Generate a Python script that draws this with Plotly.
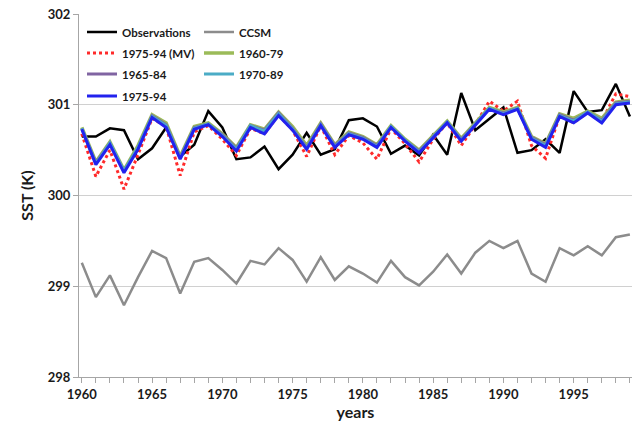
import plotly.graph_objects as go

years = list(range(1960, 2000))

observations = [300.65, 300.65, 300.74, 300.72, 300.40, 300.52, 300.75, 300.43, 300.56, 300.93,
                300.75, 300.40, 300.42, 300.54, 300.29, 300.45, 300.69, 300.45, 300.51, 300.83,
                300.85, 300.76, 300.46, 300.55, 300.44, 300.67, 300.45, 301.13, 300.72, 300.84,
                300.97, 300.47, 300.50, 300.62, 300.47, 301.15, 300.92, 300.94, 301.23, 300.87]

ccsm = [299.26, 298.88, 299.12, 298.79, 299.10, 299.39, 299.31, 298.92, 299.27, 299.31,
        299.18, 299.03, 299.28, 299.24, 299.42, 299.29, 299.05, 299.32, 299.07, 299.22,
        299.14, 299.04, 299.28, 299.10, 299.01, 299.16, 299.35, 299.14, 299.37, 299.50,
        299.42, 299.50, 299.14, 299.05, 299.42, 299.34, 299.44, 299.34, 299.54, 299.57]

mv_1975_94 = [300.68, 300.21, 300.50, 300.07, 300.45, 300.85, 300.76, 300.22, 300.70, 300.77,
              300.62, 300.44, 300.74, 300.68, 300.89, 300.72, 300.43, 300.77, 300.45, 300.66,
              300.58, 300.40, 300.74, 300.57, 300.37, 300.62, 300.80, 300.55, 300.78, 301.04,
              300.93, 301.04, 300.55, 300.41, 300.88, 300.80, 300.92, 300.82, 301.12, 301.09]

m_1960_79 = [300.75, 300.37, 300.59, 300.28, 300.55, 300.89, 300.80, 300.43, 300.76, 300.80,
             300.68, 300.53, 300.78, 300.73, 300.92, 300.76, 300.55, 300.80, 300.56, 300.70,
             300.65, 300.56, 300.77, 300.62, 300.50, 300.66, 300.82, 300.63, 300.80, 300.97,
             300.92, 300.97, 300.65, 300.57, 300.90, 300.85, 300.93, 300.85, 301.03, 301.05]

m_1965_84 = [300.74, 300.36, 300.58, 300.27, 300.53, 300.88, 300.78, 300.42, 300.75, 300.79,
             300.67, 300.52, 300.77, 300.72, 300.91, 300.74, 300.53, 300.79, 300.55, 300.69,
             300.64, 300.55, 300.76, 300.61, 300.49, 300.65, 300.81, 300.62, 300.79, 300.96,
             300.91, 300.96, 300.64, 300.56, 300.89, 300.83, 300.92, 300.83, 301.02, 301.04]

m_1970_89 = [300.74, 300.35, 300.58, 300.27, 300.53, 300.87, 300.77, 300.41, 300.74, 300.79,
             300.66, 300.51, 300.77, 300.71, 300.90, 300.73, 300.52, 300.78, 300.54, 300.68,
             300.63, 300.54, 300.76, 300.61, 300.48, 300.65, 300.81, 300.61, 300.79, 300.96,
             300.90, 300.96, 300.63, 300.55, 300.88, 300.82, 300.92, 300.82, 301.01, 301.03]

m_1975_94 = [300.73, 300.34, 300.56, 300.25, 300.51, 300.86, 300.75, 300.40, 300.73, 300.78,
             300.65, 300.49, 300.75, 300.68, 300.88, 300.72, 300.51, 300.77, 300.53, 300.67,
             300.62, 300.53, 300.75, 300.60, 300.47, 300.64, 300.80, 300.60, 300.78, 300.95,
             300.89, 300.95, 300.62, 300.53, 300.87, 300.80, 300.91, 300.80, 301.00, 301.02]

xtick_vals = [1960, 1965, 1970, 1975, 1980, 1985, 1990, 1995]
ytick_vals = [298, 299, 300, 301, 302]

FONT = "Lato"
W, H = 638, 423
ML, MR, MT, MB = 79, 6, 14, 46
PW, PH = W - ML - MR, H - MT - MB

fig = go.Figure()

# legend slots: (column x pixel, row y pixel)
col_x = [82, 199]
row_y = [32, 53, 74, 96]

legends = {}
def legend_pos(name, col, row):
    legends[name] = dict(
        x=(col_x[col] - ML) / PW, y=1 - (row_y[row] - MT) / PH,
        xanchor="left", yanchor="middle", orientation="v",
        bgcolor="rgba(0,0,0,0)", borderwidth=0, itemwidth=30,
        font=dict(family=FONT, size=11.5, color="#1a1a1a", weight="bold"),
    )

def add(y, name, color, width, legend, col, row, dash="solid"):
    fig.add_trace(go.Scatter(
        x=years, y=y, name=name, mode="lines",
        line=dict(color=color, width=width, dash=dash),
        legend=legend,
    ))
    legend_pos(legend, col, row)

add(ccsm, "CCSM", "#8c8c8c", 2.5, "legend2", 1, 0)
add(observations, "Observations", "#000000", 2.5, "legend", 0, 0)
add(mv_1975_94, "1975-94 (MV)", "#ff2a2a", 3, "legend3", 0, 1, dash="dot")
add(m_1960_79, "1960-79", "#9bbb59", 3.5, "legend4", 1, 1)
add(m_1965_84, "1965-84", "#8064a2", 3, "legend5", 0, 2)
add(m_1970_89, "1970-89", "#4bacc6", 3, "legend6", 1, 2)
add(m_1975_94, "1975-94", "#2222ee", 3, "legend7", 0, 3)

fig.update_layout(
    width=W, height=H,
    margin=dict(l=ML, r=MR, t=MT, b=MB),
    paper_bgcolor="white", plot_bgcolor="white",
    font=dict(family=FONT, size=12, color="#1a1a1a"),
    showlegend=True,
    **legends,
    xaxis=dict(
        range=[1959.8, 1999.15], tickvals=xtick_vals,
        ticktext=[str(v) for v in xtick_vals],
        ticks="outside", ticklen=5, tickcolor="#a6a6a6",
        minor=dict(dtick=1, ticks="outside", ticklen=5, tickcolor="#a6a6a6", showgrid=False),
        showgrid=False, showline=True, linecolor="#a6a6a6", linewidth=1,
        tickfont=dict(family=FONT, size=13, color="#1a1a1a", weight="bold"),
        title=dict(text="years", font=dict(family=FONT, size=16, color="#1a1a1a", weight="bold"), standoff=2),
        zeroline=False, automargin=False,
    ),
    yaxis=dict(
        range=[298, 302], tickvals=ytick_vals,
        ticks="outside", ticklen=5, tickcolor="#a6a6a6",
        showgrid=True, gridcolor="#d0d0d0", gridwidth=1,
        showline=True, linecolor="#a6a6a6", linewidth=1,
        tickfont=dict(family=FONT, size=13, color="#1a1a1a", weight="bold"),
        title=dict(text="SST (K)", font=dict(family=FONT, size=16, color="#1a1a1a", weight="bold"), standoff=10),
        zeroline=False, automargin=False,
    ),
)

fig.write_html("out.html", config={"displayModeBar": False},
               post_script="document.body.style.margin='0';")
